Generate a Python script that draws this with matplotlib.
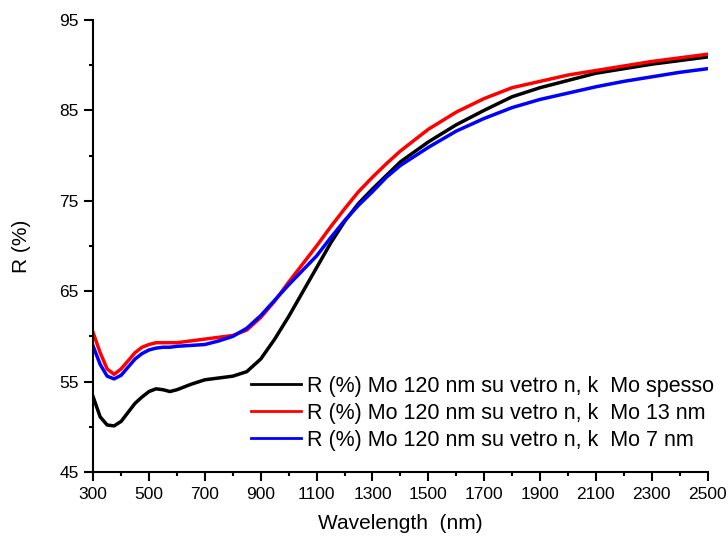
import matplotlib.pyplot as plt

plt.rcParams['font.family'] = ['Liberation Sans', 'DejaVu Sans']

# Reflectance spectra (%), wavelength in nm
wavelength = [300, 325, 350, 375, 400, 425, 450, 475, 500, 525, 550, 575, 600,
              650, 700, 750, 800, 850, 900, 950, 1000, 1050, 1100, 1150, 1200,
              1250, 1300, 1350, 1400, 1500, 1600, 1700, 1800, 1900, 2000,
              2100, 2200, 2300, 2400, 2500]

r_spesso = [53.3, 51.1, 50.2, 50.1, 50.6, 51.6, 52.6, 53.3, 53.9, 54.2, 54.1,
            53.9, 54.1, 54.7, 55.2, 55.4, 55.6, 56.1, 57.5, 59.7, 62.2, 64.9,
            67.6, 70.3, 72.7, 74.7, 76.3, 77.8, 79.3, 81.5, 83.4, 85.0, 86.5,
            87.5, 88.3, 89.1, 89.6, 90.1, 90.5, 90.9]

r_13nm = [60.4, 58.2, 56.4, 55.8, 56.4, 57.3, 58.2, 58.8, 59.1, 59.3, 59.3,
          59.3, 59.3, 59.5, 59.7, 59.9, 60.1, 60.7, 62.1, 63.9, 66.0, 68.0,
          70.0, 72.1, 74.1, 76.0, 77.6, 79.1, 80.5, 82.9, 84.8, 86.3, 87.5,
          88.2, 88.9, 89.4, 89.9, 90.4, 90.8, 91.2]

r_7nm = [58.9, 56.9, 55.6, 55.3, 55.7, 56.6, 57.5, 58.1, 58.5, 58.7, 58.8,
         58.8, 58.9, 59.0, 59.1, 59.5, 60.0, 60.9, 62.3, 64.0, 65.7, 67.3,
         68.9, 70.9, 72.8, 74.5, 76.0, 77.6, 78.9, 80.9, 82.7, 84.1, 85.3,
         86.2, 86.9, 87.6, 88.2, 88.7, 89.2, 89.6]

labels = ['R (%) Mo 120 nm su vetro n, k  Mo spesso',
          'R (%) Mo 120 nm su vetro n, k  Mo 13 nm',
          'R (%) Mo 120 nm su vetro n, k  Mo 7 nm']

fig = plt.figure(figsize=(7.28, 5.37), dpi=100)
ax = fig.add_axes([0.128, 0.121, 0.844, 0.842])

ax.plot(wavelength, r_spesso, color='black', lw=2.5, label=labels[0])
ax.plot(wavelength, r_13nm, color='#ff0000', lw=2.5, label=labels[1])
ax.plot(wavelength, r_7nm, color='#0000ff', lw=2.5, label=labels[2])

ax.set_xlim(300, 2500)
ax.set_ylim(45, 95)
ax.set_xticks(range(300, 2501, 200))
ax.set_xticks(range(400, 2500, 200), minor=True)
ax.set_yticks(range(45, 96, 10))
ax.set_yticks(range(50, 95, 10), minor=True)

for side in ['top', 'right']:
    ax.spines[side].set_visible(False)
for side in ['left', 'bottom']:
    ax.spines[side].set_linewidth(1.5)

ax.tick_params(which='major', direction='out', length=6.5, width=1.5,
               labelsize=12.5, pad=4)
ax.tick_params(which='minor', direction='out', length=3, width=1.5)

ax.set_xlabel('Wavelength  (nm)', fontsize=15, labelpad=9)
ax.set_ylabel('R (%)', fontsize=15, labelpad=20)

leg = ax.legend(loc='upper left', bbox_to_anchor=(251 / 728, 1 - 376 / 537),
                bbox_transform=fig.transFigure, frameon=False, fontsize=15.5,
                borderpad=0, borderaxespad=0, handlelength=2.33,
                handletextpad=0.27, labelspacing=0.27)
for line in leg.get_lines():
    line.set_linewidth(2)

fig.savefig('out.png', dpi=100)
